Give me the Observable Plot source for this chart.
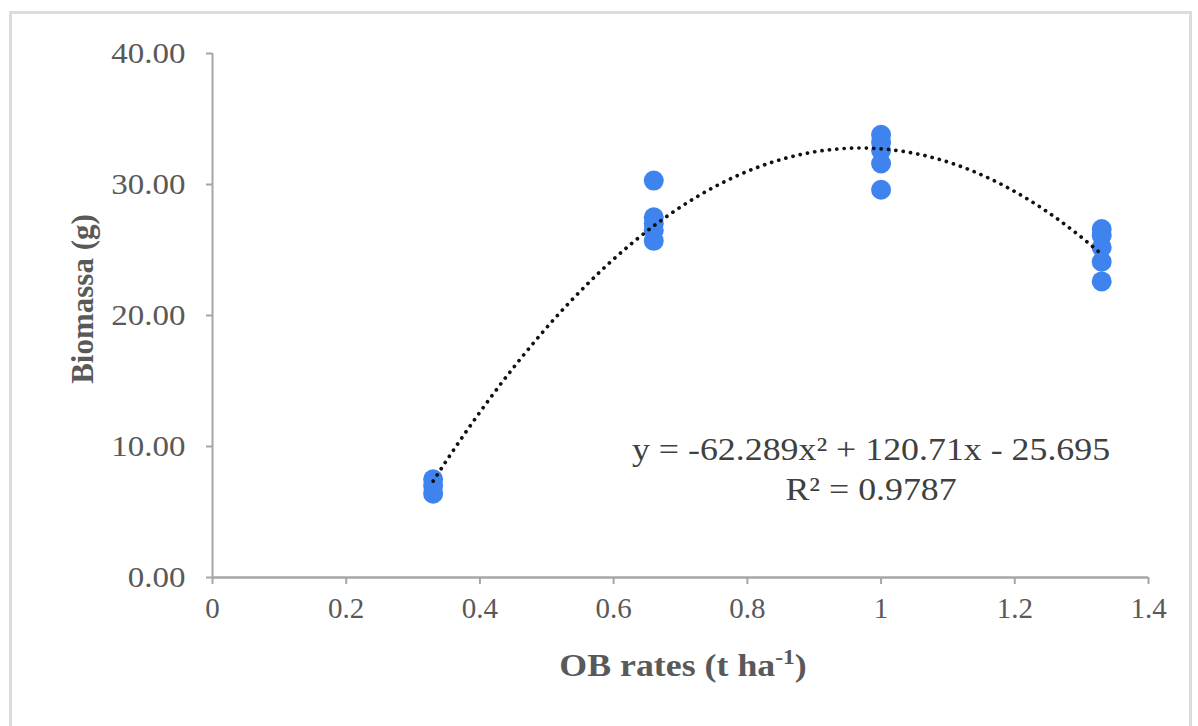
<!DOCTYPE html>
<html><head><meta charset="utf-8">
<script src="https://cdn.jsdelivr.net/npm/d3@7"></script>
<script src="https://cdn.jsdelivr.net/npm/@observablehq/plot@0.6"></script>
<style>
html,body{margin:0;padding:0;background:#fff;}
#wrap{position:relative;width:1198px;height:726px;overflow:hidden;}
#frame{position:absolute;left:9px;top:11px;width:1183px;height:730px;border:3px solid #dcdcdc;box-sizing:border-box;pointer-events:none;}
</style></head><body><div id="wrap"><div id="frame"></div></div>
<script>
// OB rates (t ha-1) and observed biomass (g) per rate
const rates = [0.33, 0.66, 1.0, 1.33];
const biomassAt033 = [7.5, 7.0, 6.4];
const biomassAt066 = [30.3, 27.5, 27.0, 26.5, 25.7];
const biomassAt100 = [33.8, 33.2, 32.6, 31.6, 29.6];
const biomassAt133 = [26.6, 26.1, 25.2, 24.1, 22.6];
const biomassGroups = [biomassAt033, biomassAt066, biomassAt100, biomassAt133];
// polynomial trendline (as printed on the chart): y = a x^2 + b x + c
const trendCoef = [-62.289, 120.71, -25.695];
const trendDomain = [0.33, 1.33];
const equationLines = ["y = -62.289x\u00b2 + 120.71x - 25.695", "R\u00b2 = 0.9787"];
const xTicks = [0, 0.2, 0.4, 0.6, 0.8, 1, 1.2, 1.4];
const yTicks = [0, 10, 20, 30, 40];

const points = [];
rates.forEach((r, i) => biomassGroups[i].forEach(v => points.push({rate: r, biomass: v})));
const trend = d3.range(trendDomain[0], trendDomain[1] + 1e-9, 0.01).map(x => ({
  rate: x, biomass: trendCoef[0] * x * x + trendCoef[1] * x + trendCoef[2]
}));

const W = 1198, H = 726;
const plot = Plot.plot({
  width: W, height: H,
  marginLeft: 212, marginRight: 50, marginTop: 53, marginBottom: 149,
  style: {fontFamily: "'Liberation Serif', 'Times New Roman', serif", fontSize: "29px", color: "#595959", background: "transparent"},
  x: {domain: [0, 1.4]},
  y: {domain: [0, 40]},
  marks: [
    Plot.axisY({ticks: yTicks, tickFormat: d => d.toFixed(2), tickSize: 6, tickPadding: 21, stroke: "#a6a6a6", strokeWidth: 2, fill: "#595959", fontSize: 30, label: null}),
    Plot.axisX({ticks: xTicks, tickFormat: d => String(+d.toFixed(1)), tickSize: 7, tickPadding: 13, stroke: "#a6a6a6", strokeWidth: 2, fill: "#595959", fontSize: 29, label: null}),
    Plot.ruleX([0], {stroke: "#a6a6a6", strokeWidth: 2}),
    Plot.ruleY([0], {stroke: "#a6a6a6", strokeWidth: 2.5}),
    Plot.dot(points, {x: "rate", y: "biomass", r: 10, fill: "#3f84ee", stroke: "none"}),
    Plot.line(trend, {x: "rate", y: "biomass", stroke: "#111", strokeWidth: 3.7, strokeDasharray: "0.1 7.3", strokeLinecap: "round", curve: "linear"}),
    Plot.text([equationLines.join("\n")], {x: 0.985, y: 8.4, text: d => d, fill: "#404040", fontSize: 32, lineHeight: 1.25, textAnchor: "middle", className: "eq"})
  ]
});
document.getElementById("wrap").appendChild(plot);

const svg = d3.select(plot);
// the reference is slightly stretched horizontally: widen horizontal text
function widen(sel, k) {
  sel.each(function () {
    const t = this.getAttribute("transform") || "";
    this.setAttribute("transform", t + ` scale(${k},1)`);
  });
}
widen(svg.selectAll('g[aria-label="y-axis tick label"] text'), 1.1);
widen(svg.selectAll('g.eq text, g[aria-label="text"] text'), 1.12);

const titleFont = "'Liberation Serif', 'Times New Roman', serif";
// x axis title
const xt = svg.append("text")
  .attr("transform", "translate(683,676) scale(1.12,1)")
  .attr("text-anchor", "middle")
  .attr("font-family", titleFont).attr("font-size", 32).attr("font-weight", "bold").attr("fill", "#595959");
xt.append("tspan").text("OB rates (t ha");
xt.append("tspan").attr("dy", -12).attr("font-size", 21).text("-1");
xt.append("tspan").attr("dy", 12).text(")");
// y axis title
svg.append("text")
  .attr("transform", "translate(93,299) rotate(-90)")
  .attr("text-anchor", "middle")
  .attr("font-family", titleFont).attr("font-size", 31).attr("font-weight", "bold").attr("fill", "#595959")
  .text("Biomassa (g)");
</script></body></html>
